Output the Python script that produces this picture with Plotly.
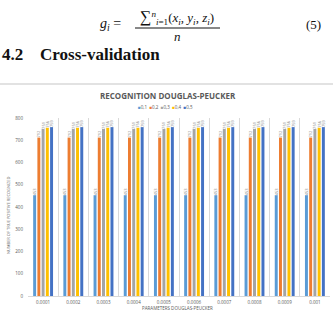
import plotly.graph_objects as go

categories = ["0.0001", "0.0002", "0.0003", "0.0004", "0.0005",
              "0.0006", "0.0007", "0.0008", "0.0009", "0.001"]
series_names = ["0,1", "0,2", "0,3", "0,4", "0,5"]
s01 = [453, 453, 453, 453, 453, 453, 453, 453, 453, 453]
s02 = [712, 712, 712, 712, 712, 712, 712, 712, 712, 712]
s03 = [751, 751, 751, 751, 751, 751, 751, 751, 751, 751]
s04 = [756, 756, 756, 756, 756, 756, 756, 756, 756, 756]
s05 = [759, 759, 759, 759, 759, 759, 759, 759, 759, 759]
series_values = [s01, s02, s03, s04, s05]
colors = ["#5B9BD5", "#ED7D31", "#A5A5A5", "#FFC000", "#4472C4"]

W, H = 333, 311
L, R, T, B = 28, 3, 118, 15
PW, PH = W - L - R, H - T - B


def px(x):
    return (x - L) / PW


def py(y):
    return (H - B - y) / PH


fig = go.Figure()
for name, vals, col in zip(series_names, series_values, colors):
    fig.add_trace(go.Bar(
        x=categories, y=vals, name=name, marker_color=col,
        marker_line_width=0,
        text=[str(v) for v in vals], textposition="outside",
        textangle=-90, constraintext="none", cliponaxis=False,
        textfont=dict(size=4, color="#7F7F7F", family="Open Sans"),
    ))

serif = "Liberation Serif, Times New Roman, serif"
ann = []
# formula
ann.append(dict(x=px(123), y=py(25), text="<i>g<sub>i</sub></i> =", xanchor="right",
                yanchor="middle", font=dict(family=serif, size=14, color="#111")))
ann.append(dict(x=px(177), y=py(17),
                text='<span style="font-size:16px">∑</span><sup><i>n</i></sup><sub><i>i</i>=1</sub>(<i>x<sub>i</sub></i>, <i>y<sub>i</sub></i>, <i>z<sub>i</sub></i>)',
                xanchor="center", yanchor="middle", font=dict(family=serif, size=13, color="#111")))
ann.append(dict(x=px(177), y=py(36), text="<i>n</i>", xanchor="center", yanchor="middle",
                font=dict(family=serif, size=13, color="#111")))
ann.append(dict(x=px(323), y=py(25), text="(5)", xanchor="right", yanchor="middle",
                font=dict(family=serif, size=13, color="#111")))
# heading
ann.append(dict(x=px(0), y=py(54), text="<b>4.2</b>", xanchor="left", yanchor="middle",
                font=dict(family=serif, size=17, color="#111")))
ann.append(dict(x=px(38), y=py(54), text="<b>Cross-validation</b>", xanchor="left", yanchor="middle",
                font=dict(family=serif, size=17, color="#111")))
# chart title
ann.append(dict(x=px(168), y=py(95), text="<b>RECOGNITION DOUGLAS-PEUCKER</b>", xanchor="center",
                yanchor="middle", font=dict(family="Open Sans", size=8, color="#595959")))
# legend
leg = "  ".join(f'<span style="color:{c}">■</span>{n}' for n, c in zip(series_names, colors))
ann.append(dict(x=px(165), y=py(107), text=leg, xanchor="center", yanchor="middle",
                font=dict(family="Open Sans", size=4.5, color="#595959")))
# axis titles
ann.append(dict(x=px(8), y=py(215), text="NUMBER OF TRUE POSITIVE RECOGNIZED", textangle=-90,
                xanchor="center", yanchor="middle", font=dict(family="Open Sans", size=4, color="#595959")))
ann.append(dict(x=px(177), y=py(308), text="PARAMETERS DOUGLAS-PEUCKER", xanchor="center",
                yanchor="middle", font=dict(family="Open Sans", size=4.5, color="#595959")))
for a in ann:
    a.update(xref="paper", yref="paper", showarrow=False)

shapes = [
    dict(type="line", xref="paper", yref="paper", x0=px(135), x1=px(220), y0=py(28), y1=py(28),
         line=dict(color="#111", width=1)),
    dict(type="line", xref="paper", yref="paper", x0=px(0), x1=px(333), y0=py(84), y1=py(84),
         line=dict(color="#D9D9D9", width=1.5)),
]

fig.update_layout(
    width=W, height=H, margin=dict(l=L, r=R, t=T, b=B),
    paper_bgcolor="white", plot_bgcolor="white",
    showlegend=False, barmode="group", bargap=0.3, bargroupgap=0.3,
    annotations=ann, shapes=shapes,
    font=dict(family="Open Sans", color="#595959"),
)
fig.update_xaxes(type="category", tickson="boundaries", showgrid=True, gridcolor="#D9D9D9",
                 gridwidth=1, ticks="", showline=True, linecolor="#D9D9D9",
                 tickfont=dict(size=4.5, color="#595959"), ticklabelstandoff=2)
fig.update_yaxes(range=[0, 800], dtick=100, showgrid=False, zeroline=False, showline=False,
                 tickfont=dict(size=4.5, color="#595959"), ticklabelstandoff=4)

fig.write_html("out.html")
